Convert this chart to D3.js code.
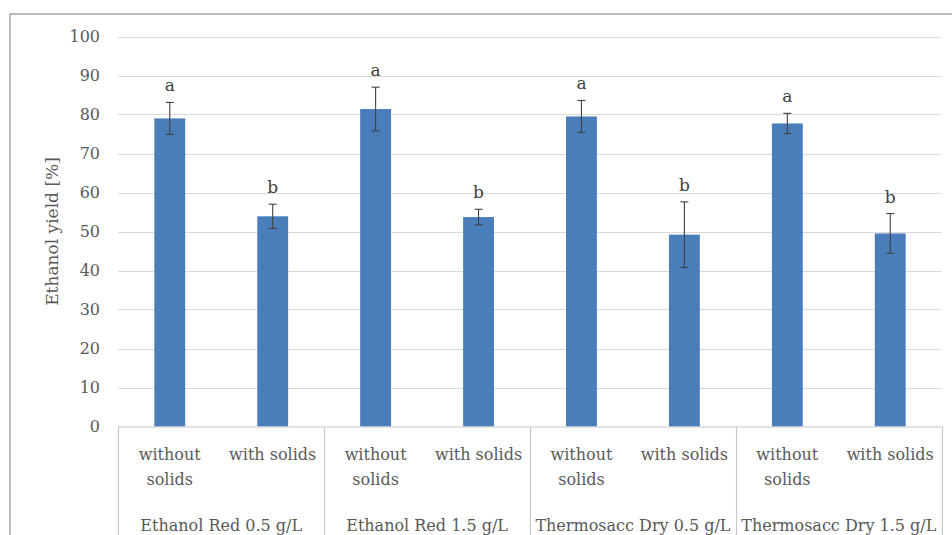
<!DOCTYPE html>
<html>
<head>
<meta charset="utf-8">
<script src="https://cdn.jsdelivr.net/npm/d3@7"></script>
<style>
  html, body { margin: 0; padding: 0; background: #ffffff; }
  svg { display: block; }
  text { font-family: "DejaVu Serif", "Liberation Serif", serif; }
</style>
</head>
<body>
<svg id="chart" width="952" height="535"></svg>
<script>
// ---- data ----
const groups = ["Ethanol Red 0.5 g/L", "Ethanol Red 1.5 g/L", "Thermosacc Dry 0.5 g/L", "Thermosacc Dry 1.5 g/L"];
const conditions = ["without solids", "with solids"];
const conditionLines = [["without", "solids"], ["with solids"]];
const yieldValues = [79.0, 53.9, 81.4, 53.7, 79.5, 49.2, 77.7, 49.5];
const errorValues = [4.1, 3.1, 5.6, 2.0, 4.1, 8.4, 2.6, 5.1];
const letters = ["a", "b", "a", "b", "a", "b", "a", "b"];
const yTicks = [0, 10, 20, 30, 40, 50, 60, 70, 80, 90, 100];
const yTitle = "Ethanol yield [%]";

(function () {
const rows = [];
groups.forEach((g, gi) => conditions.forEach((c, ci) => {
  const i = gi * conditions.length + ci;
  rows.push({ group: g, cond: c, ci: ci, value: yieldValues[i], err: errorValues[i], letter: letters[i] });
}));

// ---- layout ----
const svg = d3.select("#chart");
const pLeft = 118.3, pRight = 941.7, pTop = 36.5, pBottom = 426.5;
const textColor = "#595959";

const x0 = d3.scaleBand().domain(groups).range([pLeft, pRight]).padding(0);
const x1 = d3.scaleBand().domain(conditions).range([0, x0.bandwidth()]).paddingInner(0.7).paddingOuter(0.35);
const y = d3.scaleLinear().domain([0, 100]).range([pBottom, pTop]);

// outer border
svg.append("rect").attr("x", 10).attr("y", 14).attr("width", 1000).attr("height", 700)
  .attr("fill", "none").attr("stroke", "#a6a6a6").attr("stroke-width", 1.5);

// gridlines
svg.append("g").selectAll("line").data(yTicks.filter(d => d > 0)).join("line")
  .attr("x1", pLeft).attr("x2", pRight)
  .attr("y1", d => Math.round(y(d)) + 0.5).attr("y2", d => Math.round(y(d)) + 0.5)
  .attr("stroke", "#d9d9d9").attr("stroke-width", 1.2);

// y axis labels
const yAxis = d3.axisLeft(y).tickValues(yTicks).tickSize(0).tickPadding(0).tickFormat(d3.format("d"));
const ya = svg.append("g").attr("transform", `translate(100,0)`).call(yAxis);
ya.select(".domain").remove();
ya.selectAll("text").attr("font-size", 16).attr("fill", textColor)
  .attr("font-family", "DejaVu Serif");

// y title
svg.append("text")
  .attr("transform", `translate(58,${(pTop + pBottom) / 2}) rotate(-90)`)
  .attr("text-anchor", "middle").attr("font-size", 17).attr("fill", textColor)
  .text(yTitle);

// bars
const bx = d => x0(d.group) + x1(d.cond);
svg.append("g").selectAll("rect").data(rows).join("rect")
  .attr("x", bx).attr("width", x1.bandwidth())
  .attr("y", d => y(d.value)).attr("height", d => y(0) - y(d.value))
  .attr("fill", "#4a7ebb");

// error bars
const eb = svg.append("g").attr("stroke", "#404040").attr("stroke-width", 1.1);
rows.forEach(d => {
  const cx = bx(d) + x1.bandwidth() / 2;
  const yt = y(d.value + d.err), yb = y(d.value - d.err);
  eb.append("line").attr("x1", cx).attr("x2", cx).attr("y1", yt).attr("y2", yb);
  eb.append("line").attr("x1", cx - 4).attr("x2", cx + 4).attr("y1", yt).attr("y2", yt);
  eb.append("line").attr("x1", cx - 4).attr("x2", cx + 4).attr("y1", yb).attr("y2", yb);
});

// significance letters
svg.append("g").selectAll("text").data(rows).join("text")
  .attr("x", d => bx(d) + x1.bandwidth() / 2)
  .attr("y", d => y(d.value + d.err) - 11)
  .attr("text-anchor", "middle").attr("font-size", 17).attr("fill", "#404040")
  .text(d => d.letter);

// category axis line and separators
const axisColor = "#c8c8c8";
svg.append("line").attr("x1", pLeft).attr("x2", pRight).attr("y1", pBottom + 0.5).attr("y2", pBottom + 0.5)
  .attr("stroke", axisColor).attr("stroke-width", 1.2);
const seps = groups.map(g => x0(g)).concat([pRight]);
svg.append("g").selectAll("line").data(seps).join("line")
  .attr("x1", d => Math.round(d) + 0.5).attr("x2", d => Math.round(d) + 0.5)
  .attr("y1", pBottom).attr("y2", 540)
  .attr("stroke", axisColor).attr("stroke-width", 1.2);

// condition labels
const cl = svg.append("g").attr("font-size", 16).attr("fill", textColor).attr("text-anchor", "middle");
rows.forEach(d => {
  const cx = bx(d) + x1.bandwidth() / 2;
  conditionLines[d.ci].forEach((ln, li) => {
    cl.append("text").attr("x", cx).attr("y", 460 + li * 25).attr("fill", textColor).text(ln);
  });
});

// group labels
svg.append("g").selectAll("text").data(groups).join("text")
  .attr("x", g => x0(g) + x0.bandwidth() / 2).attr("y", 530.5)
  .attr("text-anchor", "middle").attr("font-size", 16).attr("fill", textColor)
  .text(g => g);
})();
</script>
</body>
</html>
